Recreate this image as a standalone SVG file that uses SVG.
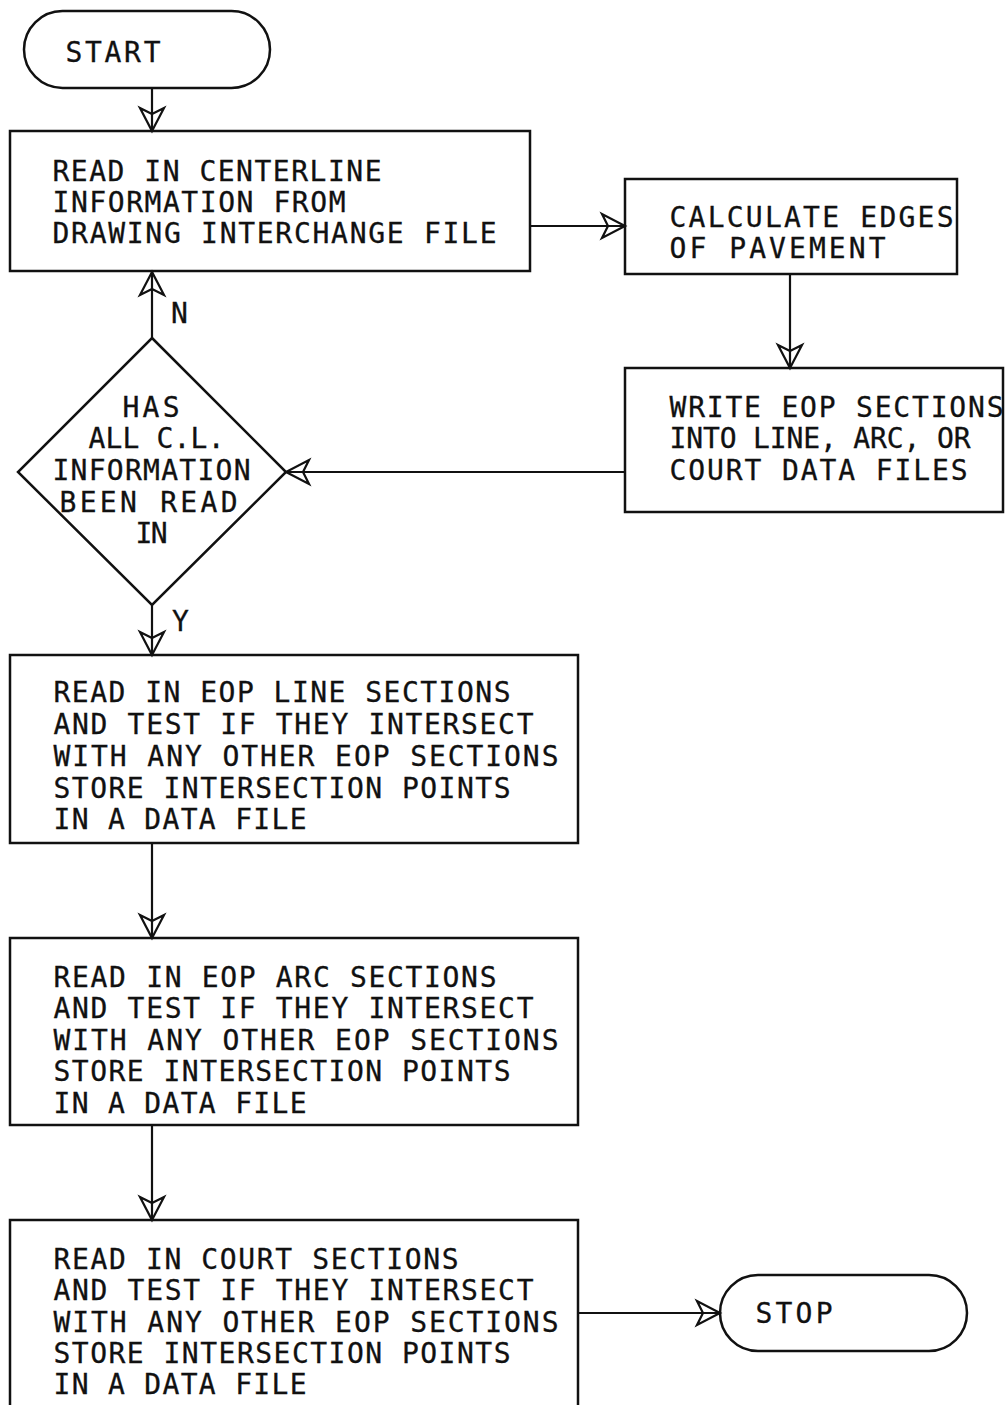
<svg xmlns="http://www.w3.org/2000/svg" width="1008" height="1405" viewBox="0 0 1008 1405">
  <defs>
    <style>
      .shape { fill: none; stroke: #111; stroke-width: 2.5; }
      .wire { fill: none; stroke: #111; stroke-width: 2.2; }
      .label { font-family: "DejaVu Sans Mono", "Liberation Mono", monospace; font-size: 28px; fill: #111; stroke: #111; stroke-width: 0.3; }
    </style>
    <!-- open barbed arrowhead; the connector line shows through it -->
    <marker id="arrow" markerUnits="userSpaceOnUse" viewBox="-25 -14 28 28" markerWidth="28" markerHeight="28" refX="0" refY="0" orient="auto" overflow="visible">
      <path d="M0,0 L-23,-12 L-17,0 L-23,12 Z" fill="none" stroke="#111" stroke-width="2.2" stroke-linejoin="miter"/>
    </marker>
  </defs>
  <rect width="1008" height="1405" fill="#fff"/>

  <g id="connectors">
    <line class="wire" x1="152" y1="88" x2="152" y2="131" marker-end="url(#arrow)"/>
    <line class="wire" x1="530" y1="226" x2="625" y2="226" marker-end="url(#arrow)"/>
    <line class="wire" x1="790" y1="274" x2="790" y2="368" marker-end="url(#arrow)"/>
    <line class="wire" x1="625" y1="472" x2="286" y2="472" marker-end="url(#arrow)"/>
    <line class="wire" x1="152" y1="338" x2="152" y2="272" marker-end="url(#arrow)"/>
    <text class="label" x="171" y="323">N</text>
    <line class="wire" x1="152" y1="605" x2="152" y2="655" marker-end="url(#arrow)"/>
    <text class="label" x="172" y="631">Y</text>
    <line class="wire" x1="152" y1="843" x2="152" y2="938" marker-end="url(#arrow)"/>
    <line class="wire" x1="152" y1="1125" x2="152" y2="1220" marker-end="url(#arrow)"/>
    <line class="wire" x1="578" y1="1313" x2="720" y2="1313" marker-end="url(#arrow)"/>
  </g>

  <g id="start">
    <rect class="shape" x="24" y="11" width="246" height="77" rx="38.5"/>
    <text class="label" x="65.5" y="62" textLength="95" lengthAdjust="spacing">START</text>
  </g>

  <g id="read-centerline">
    <rect class="shape" x="10" y="131" width="520" height="140"/>
    <text class="label" x="52.5" y="181" textLength="329" lengthAdjust="spacing">READ IN CENTERLINE</text>
    <text class="label" x="52.5" y="212" textLength="293" lengthAdjust="spacing">INFORMATION FROM</text>
    <text class="label" x="52.5" y="243" textLength="444" lengthAdjust="spacing">DRAWING INTERCHANGE FILE</text>
  </g>

  <g id="calculate-edges">
    <rect class="shape" x="625" y="179" width="332" height="95"/>
    <text class="label" x="669.5" y="227" textLength="284" lengthAdjust="spacing">CALCULATE EDGES</text>
    <text class="label" x="669.5" y="258" textLength="216" lengthAdjust="spacing">OF PAVEMENT</text>
  </g>

  <g id="write-eop">
    <rect class="shape" x="625" y="368" width="378" height="144"/>
    <text class="label" x="669.5" y="417" textLength="334" lengthAdjust="spacing">WRITE EOP SECTIONS</text>
    <text class="label" x="669.5" y="448" textLength="301" lengthAdjust="spacing">INTO LINE, ARC, OR</text>
    <text class="label" x="669.5" y="480" textLength="298" lengthAdjust="spacing">COURT DATA FILES</text>
  </g>

  <g id="all-read-decision">
    <polygon class="shape" points="152,338 286,472 152,605 18,472"/>
    <text class="label" x="122.5" y="417" textLength="57" lengthAdjust="spacing">HAS</text>
    <text class="label" x="88.5" y="448" textLength="136" lengthAdjust="spacing">ALL C.L.</text>
    <text class="label" x="52.5" y="480" textLength="198" lengthAdjust="spacing">INFORMATION</text>
    <text class="label" x="59.5" y="512" textLength="178" lengthAdjust="spacing">BEEN READ</text>
    <text class="label" x="135.5" y="543" textLength="32" lengthAdjust="spacing">IN</text>
  </g>

  <g id="read-line-sections">
    <rect class="shape" x="10" y="655" width="568" height="188"/>
    <text class="label" x="53.5" y="702" textLength="457" lengthAdjust="spacing">READ IN EOP LINE SECTIONS</text>
    <text class="label" x="53.5" y="734" textLength="480" lengthAdjust="spacing">AND TEST IF THEY INTERSECT</text>
    <text class="label" x="53.5" y="766" textLength="505" lengthAdjust="spacing">WITH ANY OTHER EOP SECTIONS</text>
    <text class="label" x="53.5" y="798" textLength="457" lengthAdjust="spacing">STORE INTERSECTION POINTS</text>
    <text class="label" x="53.5" y="829" textLength="253" lengthAdjust="spacing">IN A DATA FILE</text>
  </g>

  <g id="read-arc-sections">
    <rect class="shape" x="10" y="938" width="568" height="187"/>
    <text class="label" x="53.5" y="987" textLength="443" lengthAdjust="spacing">READ IN EOP ARC SECTIONS</text>
    <text class="label" x="53.5" y="1018" textLength="480" lengthAdjust="spacing">AND TEST IF THEY INTERSECT</text>
    <text class="label" x="53.5" y="1050" textLength="505" lengthAdjust="spacing">WITH ANY OTHER EOP SECTIONS</text>
    <text class="label" x="53.5" y="1081" textLength="457" lengthAdjust="spacing">STORE INTERSECTION POINTS</text>
    <text class="label" x="53.5" y="1113" textLength="253" lengthAdjust="spacing">IN A DATA FILE</text>
  </g>

  <g id="read-court-sections">
    <rect class="shape" x="10" y="1220" width="568" height="200"/>
    <text class="label" x="53.5" y="1269" textLength="405" lengthAdjust="spacing">READ IN COURT SECTIONS</text>
    <text class="label" x="53.5" y="1300" textLength="480" lengthAdjust="spacing">AND TEST IF THEY INTERSECT</text>
    <text class="label" x="53.5" y="1332" textLength="505" lengthAdjust="spacing">WITH ANY OTHER EOP SECTIONS</text>
    <text class="label" x="53.5" y="1363" textLength="457" lengthAdjust="spacing">STORE INTERSECTION POINTS</text>
    <text class="label" x="53.5" y="1394" textLength="253" lengthAdjust="spacing">IN A DATA FILE</text>
  </g>

  <g id="stop">
    <rect class="shape" x="720" y="1275" width="247" height="76" rx="38"/>
    <text class="label" x="755.5" y="1323" textLength="77" lengthAdjust="spacing">STOP</text>
  </g>
</svg>
